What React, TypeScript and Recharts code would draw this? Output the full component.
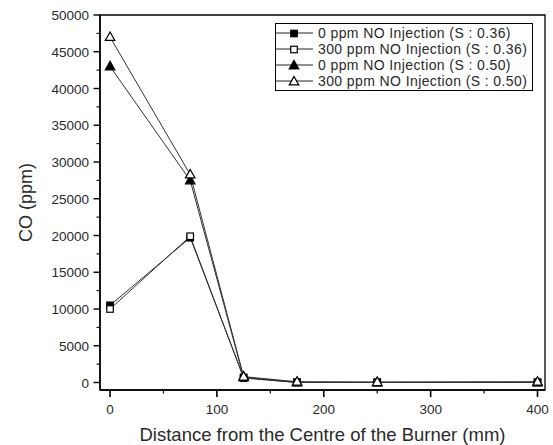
import React from 'react';
import { LineChart, Line, XAxis, YAxis, Legend, ReferenceArea } from 'recharts';

const distances = [0, 75, 125, 175, 250, 400];
const s036_0ppm = [10500, 19700, 700, 50, 50, 50];
const s036_300ppm = [10000, 19900, 600, 0, 0, 0];
const s050_0ppm = [43000, 27500, 700, 0, 0, 0];
const s050_300ppm = [47000, 28300, 800, 100, 50, 100];

const xTicks = [0, 50, 100, 150, 200, 250, 300, 350, 400];
const yTicks = [0, 2500, 5000, 7500, 10000, 12500, 15000, 17500, 20000, 22500, 25000, 27500, 30000, 32500, 35000, 37500, 40000, 42500, 45000, 47500, 50000];

const seriesNames = [
  '0 ppm NO Injection (S : 0.36)',
  '300 ppm NO Injection (S : 0.36)',
  '0 ppm NO Injection (S : 0.50)',
  '300 ppm NO Injection (S : 0.50)',
];
const seriesKeys = ['a', 'b', 'c', 'd'];
const markerKinds = ['sq-fill', 'sq-open', 'tri-fill', 'tri-open'];

const data = distances.map((x, i) => ({
  x,
  a: s036_0ppm[i],
  b: s036_300ppm[i],
  c: s050_0ppm[i],
  d: s050_300ppm[i],
}));

const FONT = 'Arial, "Liberation Sans", sans-serif';
const TXT = '#2a2a2a';

function Marker({ kind, cx, cy }: { kind: string; cx: number; cy: number }) {
  if (cx == null || cy == null || isNaN(cx) || isNaN(cy)) return null;
  const s = 6.5;
  if (kind === 'sq-fill' || kind === 'sq-open') {
    return (
      <rect
        x={cx - s / 2}
        y={cy - s / 2}
        width={s}
        height={s}
        fill={kind === 'sq-fill' ? '#000' : '#fff'}
        stroke="#000"
        strokeWidth={1.2}
      />
    );
  }
  const w = 9.5;
  const h = 8.5;
  const pts = `${cx},${cy - h * 0.6} ${cx - w / 2},${cy + h * 0.4} ${cx + w / 2},${cy + h * 0.4}`;
  return (
    <polygon
      points={pts}
      fill={kind === 'tri-fill' ? '#000' : '#fff'}
      stroke="#000"
      strokeWidth={1.2}
      strokeLinejoin="miter"
    />
  );
}

const makeDot = (kind: string) => (props: any) => (
  <Marker key={`${kind}-${props.index}`} kind={kind} cx={props.cx} cy={props.cy} />
);

function XTick(props: any) {
  const { x, y, payload } = props;
  const v = payload.value;
  const major = v % 100 === 0;
  return (
    <g>
      <line x1={x} y1={y} x2={x} y2={y + (major ? 7 : 3.5)} stroke="#000" strokeWidth={major ? 1.6 : 1.2} />
      {major && (
        <text x={x} y={y + 24} textAnchor="middle" fontSize={13.5} fontFamily={FONT} fill={TXT}>
          {v}
        </text>
      )}
    </g>
  );
}

function YTick(props: any) {
  const { x, y, payload } = props;
  const v = payload.value;
  const major = v % 5000 === 0;
  return (
    <g>
      <line x1={x - (major ? 6.5 : 3.5)} y1={y} x2={x} y2={y} stroke="#000" strokeWidth={major ? 1.4 : 1.1} />
      {major && (
        <text x={x - 11} y={y + 5} textAnchor="end" fontSize={13.5} fontFamily={FONT} fill={TXT}>
          {v}
        </text>
      )}
    </g>
  );
}

function LegendBox() {
  return (
    <div
      style={{
        border: '1px solid #000',
        background: '#fff',
        paddingTop: 1,
        paddingBottom: 1,
        boxSizing: 'border-box',
        width: 258,
        fontFamily: FONT,
        fontSize: 14,
        letterSpacing: 0.4,
        color: TXT,
      }}
    >
      {seriesNames.map((name, i) => (
        <div key={name} style={{ display: 'flex', alignItems: 'center', height: 16, whiteSpace: 'nowrap' }}>
          <svg width={38} height={16} style={{ display: 'block', flex: 'none' }}>
            <line x1={0} y1={8} x2={37} y2={8} stroke="#222" strokeWidth={1} />
            <Marker kind={markerKinds[i]} cx={18} cy={8.5} />
          </svg>
          <span style={{ marginLeft: 4, lineHeight: '16px' }}>{name}</span>
        </div>
      ))}
    </div>
  );
}

export default function App() {
  return (
    <div style={{ position: 'absolute', left: 0, top: 0, width: 553, height: 445, background: '#fff' }}>
      <LineChart width={553} height={445} data={data} margin={{ top: 15, right: 8, left: 0, bottom: 0 }}>
        <XAxis
          dataKey="x"
          type="number"
          domain={[-9.4, 407]}
          ticks={xTicks}
          interval={0}
          tickSize={0}
          tickMargin={0}
          tickLine={false}
          tick={<XTick />}
          height={55}
          axisLine={{ stroke: '#000', strokeWidth: 1.5 }}
          allowDataOverflow
          label={{
            value: 'Distance from the Centre of the Burner (mm)',
            position: 'insideBottom',
            offset: 4,
            style: { fontSize: 18.5, fontFamily: FONT, fill: TXT },
          }}
        />
        <YAxis
          type="number"
          domain={[-1020, 50000]}
          ticks={yTicks}
          interval={0}
          tickSize={0}
          tickMargin={0}
          tickLine={false}
          tick={<YTick />}
          width={100}
          axisLine={{ stroke: '#000', strokeWidth: 1.5 }}
          allowDataOverflow
          label={{
            value: 'CO (ppm)',
            angle: -90,
            position: 'insideLeft',
            offset: 26,
            style: { fontSize: 18, fontFamily: FONT, fill: TXT, textAnchor: 'middle' },
          }}
        />
        <ReferenceArea x1={-9.4} x2={407} y1={-1020} y2={50000} fill="none" stroke="#000" strokeWidth={1.3} ifOverflow="visible" />
        <Legend
          layout="vertical"
          align="center"
          verticalAlign="middle"
          content={() => <LegendBox />}
          wrapperStyle={{ position: 'absolute', left: 275, top: 23, width: 258, height: 66 }}
        />
        {seriesKeys.map((k, i) => (
          <Line
            key={k}
            type="linear"
            dataKey={k}
            name={seriesNames[i]}
            stroke="#333"
            strokeWidth={1}
            dot={makeDot(markerKinds[i])}
            activeDot={false}
            isAnimationActive={false}
          />
        ))}
      </LineChart>
    </div>
  );
}
